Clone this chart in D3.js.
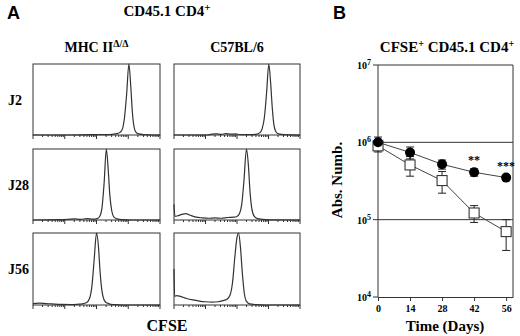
<!DOCTYPE html>
<html>
<head>
<meta charset="utf-8">
<script src="https://cdn.jsdelivr.net/npm/d3@7"></script>
<style>
  body { margin: 0; background: #fff; }
  svg { display: block; }
  text { font-family: "Liberation Serif", "Times New Roman", serif; font-weight: bold; fill: #000; }
  .panelLetter { font-family: "Liberation Sans", Arial, sans-serif; font-size: 18px; }
</style>
</head>
<body>
<svg id="chart" width="520" height="336"></svg>
<script>
// ---- panel A : CFSE histograms, x in log decades (10^0 .. 10^4), y in % of max
const rowLabels = ["J2", "J28", "J56"];
const colLabels = ["MHC II", "C57BL/6"];

const histKO_J2 = [[0,0],[1.2,0],[1.8,0.4],[2.3,0.5],[2.5,1],[2.65,2],[2.75,4],[2.82,9],[2.88,24],[2.95,58],[3.02,100],[3.08,68],[3.13,32],[3.18,12],[3.24,4],[3.32,1.5],[3.5,0.5],[3.8,0],[4,0]];
const histB6_J2 = [[0,0],[1.05,0],[1.2,1.2],[1.35,1.6],[1.5,1],[1.65,1.8],[1.8,1.2],[1.95,1.5],[2.1,0.6],[2.4,0.5],[2.6,1],[2.72,3],[2.8,9],[2.87,25],[2.94,60],[3.01,100],[3.07,72],[3.12,38],[3.17,15],[3.23,5],[3.32,1.5],[3.5,0.4],[4,0]];
const histKO_J28 = [[0,0],[0.8,0.5],[1.1,1],[1.3,1.5],[1.5,1],[1.7,1.8],[1.9,1.2],[2.02,2],[2.1,5],[2.17,16],[2.24,52],[2.31,100],[2.37,70],[2.42,35],[2.48,13],[2.55,4],[2.65,1.5],[2.8,0.5],[3.1,0],[4,0]];
const histB6_J28 = [[0,22],[0.03,5],[0.12,6],[0.25,8],[0.38,9],[0.5,7],[0.7,4],[0.9,3],[1.1,2.5],[1.3,3],[1.5,2.5],[1.7,3.5],[1.9,4],[2.0,5],[2.08,9],[2.15,22],[2.22,55],[2.3,100],[2.36,78],[2.41,42],[2.47,16],[2.55,5],[2.65,2],[2.8,1],[3.0,0.3],[4,0]];
const histKO_J56 = [[0,2],[0.2,2.5],[0.4,2],[0.6,1.5],[0.9,0.8],[1.2,0.6],[1.4,1],[1.55,1.5],[1.68,3],[1.78,9],[1.86,28],[1.93,65],[2.0,100],[2.06,82],[2.11,48],[2.17,20],[2.24,7],[2.32,3],[2.45,1],[2.7,0.3],[3,0],[4,0]];
const histB6_J56 = [[0,50],[0.02,12],[0.08,13],[0.2,12],[0.4,9],[0.6,7],[0.8,5.5],[1.0,4.5],[1.2,4],[1.4,4.5],[1.55,6],[1.68,8],[1.78,14],[1.86,32],[1.93,66],[2.0,94],[2.05,100],[2.11,80],[2.17,44],[2.23,17],[2.3,5],[2.4,1.5],[2.6,0.5],[2.9,0],[4,0]];

const histGrid = [
  [histKO_J2, histB6_J2],
  [histKO_J28, histB6_J28],
  [histKO_J56, histB6_J56]
];

// ---- panel B : absolute numbers over time
const days = [0, 14, 28, 42, 56];
const b6Mean = [1.0e6, 7.4e5, 5.2e5, 4.1e5, 3.5e5];
const b6Err = [1.7e5, 1.3e5, 0.7e5, 0.45e5, 0.25e5];
const koMean = [9.0e5, 5.1e5, 3.2e5, 1.22e5, 7.0e4];
const koErr = [1.5e5, 1.45e5, 1.0e5, 0.3e5, 3.0e4];
const stars = ["", "", "", "**", "***"];
const yTickExp = [4, 5, 6, 7];

const svg = d3.select("#chart");
const lineColor = "#333";

function histogramPanel(selection, data, x0, x1, y0, y1) {
    const xScale = d3.scaleLinear().domain([0, 4]).range([x0, x1]);
    const yScale = d3.scaleLinear().domain([0, 100]).range([y1, y0]);

    selection.append("rect")
        .attr("x", x0).attr("y", y0)
        .attr("width", x1 - x0).attr("height", y1 - y0)
        .attr("fill", "none")
        .attr("stroke", lineColor)
        .attr("stroke-width", 1);

    // log ticks along the bottom
    const logTicks = d3.scaleLog().domain([1, 1e4]).ticks();
    selection.selectAll(null)
        .data(logTicks)
        .join("line")
        .attr("x1", d => xScale(Math.log10(d)))
        .attr("x2", d => xScale(Math.log10(d)))
        .attr("y1", y1)
        .attr("y2", d => Number.isInteger(Math.log10(d)) ? y1 + 4 : y1 + 2)
        .attr("stroke", lineColor)
        .attr("stroke-width", 1);

    const line = d3.line()
        .x(d => xScale(d[0]))
        .y(d => yScale(d[1]))
        .curve(d3.curveMonotoneX);

    selection.append("path")
        .datum(data)
        .attr("d", line)
        .attr("fill", "none")
        .attr("stroke", "#333")
        .attr("stroke-width", 1.2);
}

// column / row positions of the histogram boxes
const cols = [[33, 160], [174, 300]];
const rows = [[64, 135], [149, 220], [233, 305]];

const gA = svg.append("g");
histGrid.forEach((row, i) => {
    row.forEach((data, j) => {
        histogramPanel(gA, data, cols[j][0], cols[j][1], rows[i][0], rows[i][1]);
    });
    gA.append("text")
        .attr("x", 8)
        .attr("y", (rows[i][0] + rows[i][1]) / 2 + 5)
        .style("font-size", "14px")
        .text(rowLabels[i]);
});

svg.append("text").attr("class", "panelLetter").attr("x", 7).attr("y", 19).text("A");

const titleA = svg.append("text")
    .attr("x", 167).attr("y", 16)
    .attr("text-anchor", "middle")
    .style("font-size", "15px");
titleA.append("tspan").text("CD45.1 CD4");
titleA.append("tspan").attr("dy", -5).style("font-size", "11px").text("+");

const koLabel = svg.append("text")
    .attr("x", (cols[0][0] + cols[0][1]) / 2).attr("y", 52)
    .attr("text-anchor", "middle")
    .style("font-size", "14px");
koLabel.append("tspan").text(colLabels[0]);
koLabel.append("tspan").attr("dy", -5).style("font-size", "10px").text("Δ/Δ");

svg.append("text")
    .attr("x", (cols[1][0] + cols[1][1]) / 2).attr("y", 52)
    .attr("text-anchor", "middle")
    .style("font-size", "14px")
    .text(colLabels[1]);

svg.append("text")
    .attr("x", 167).attr("y", 331)
    .attr("text-anchor", "middle")
    .style("font-size", "16px")
    .text("CFSE");

// ---- panel B
const gB = svg.append("g");
const xB = d3.scaleLinear().domain([0, 59]).range([378, 513]);
const yB = d3.scaleLog().domain([1e4, 1e7]).range([297, 65]);

// box: top + right border, gridlines at decades
gB.selectAll(null)
    .data(yTickExp)
    .join("line")
    .attr("x1", xB(0) - 5)
    .attr("x2", d => (d === 4 ? xB(0) : xB(59)))
    .attr("y1", d => yB(10 ** d))
    .attr("y2", d => yB(10 ** d))
    .attr("stroke", lineColor)
    .attr("stroke-width", 1);

gB.append("line")
    .attr("x1", xB(59)).attr("x2", xB(59))
    .attr("y1", yB(1e7)).attr("y2", yB(1e4))
    .attr("stroke", lineColor).attr("stroke-width", 1);

gB.append("g")
    .attr("transform", `translate(0,${yB(1e4)})`)
    .call(d3.axisBottom(xB).tickValues(days).tickSize(4).tickPadding(4).tickSizeOuter(0))
    .call(g => g.select(".domain").attr("stroke", lineColor))
    .call(g => g.selectAll(".tick line").attr("stroke", lineColor))
    .call(g => g.selectAll(".tick text")
        .style("font-family", "'Liberation Serif', serif")
        .style("font-weight", "bold")
        .style("font-size", "10px")
        .attr("fill", "#000"));

gB.append("line")
    .attr("x1", xB(0)).attr("x2", xB(0))
    .attr("y1", yB(1e7)).attr("y2", yB(1e4))
    .attr("stroke", lineColor).attr("stroke-width", 1);

const yLabels = gB.selectAll(null)
    .data(yTickExp)
    .join("text")
    .attr("x", xB(0) - 7)
    .attr("y", d => yB(10 ** d) + 4)
    .attr("text-anchor", "end")
    .style("font-size", "10px");
yLabels.append("tspan").text("10");
yLabels.append("tspan").attr("dy", -4).style("font-size", "8px").text(d => d);

// series lines
const lineB = d3.line()
    .x((d, i) => xB(days[i]))
    .y(d => yB(d));

gB.append("path").datum(koMean).attr("d", lineB)
    .attr("fill", "none").attr("stroke", "#444").attr("stroke-width", 1);
gB.append("path").datum(b6Mean).attr("d", lineB)
    .attr("fill", "none").attr("stroke", "#444").attr("stroke-width", 1);

function errorBars(selection, means, errs) {
    const g = selection.append("g").attr("stroke", "#222").attr("stroke-width", 1);
    means.forEach((m, i) => {
        const x = xB(days[i]);
        const yTop = yB(m + errs[i]);
        const yBot = yB(m - errs[i]);
        g.append("line").attr("x1", x).attr("x2", x).attr("y1", yTop).attr("y2", yBot);
        g.append("line").attr("x1", x - 4).attr("x2", x + 4).attr("y1", yTop).attr("y2", yTop);
        g.append("line").attr("x1", x - 4).attr("x2", x + 4).attr("y1", yBot).attr("y2", yBot);
    });
}

errorBars(gB, koMean, koErr);
errorBars(gB, b6Mean, b6Err);

gB.selectAll(".koPoint")
    .data(koMean)
    .join("rect")
    .attr("class", "koPoint")
    .attr("x", (d, i) => xB(days[i]) - 5)
    .attr("y", d => yB(d) - 5)
    .attr("width", 10).attr("height", 10)
    .attr("fill", "#fff")
    .attr("stroke", "#222")
    .attr("stroke-width", 1);

gB.selectAll(".b6Point")
    .data(b6Mean)
    .join("circle")
    .attr("class", "b6Point")
    .attr("cx", (d, i) => xB(days[i]))
    .attr("cy", d => yB(d))
    .attr("r", 5)
    .attr("fill", "#000");

gB.selectAll(".stars")
    .data(b6Mean)
    .join("text")
    .attr("class", "stars")
    .attr("x", (d, i) => Math.round(xB(days[i])))
    .attr("y", d => Math.round(yB(d) - 8))
    .attr("text-anchor", "middle")
    .style("font-size", "12px")
    .style("fill", "#000")
    .text((d, i) => stars[i]);

svg.append("text").attr("class", "panelLetter").attr("x", 333).attr("y", 19).text("B");

const titleB = svg.append("text")
    .attr("x", 447).attr("y", 52)
    .attr("text-anchor", "middle")
    .style("font-size", "15px");
titleB.append("tspan").text("CFSE");
titleB.append("tspan").attr("dy", -5).style("font-size", "10px").text("+");
titleB.append("tspan").attr("dy", 5).text(" CD45.1 CD4");
titleB.append("tspan").attr("dy", -5).style("font-size", "10px").text("+");

svg.append("text")
    .attr("transform", "translate(342,180) rotate(-90)")
    .attr("text-anchor", "middle")
    .style("font-size", "15px")
    .text("Abs. Numb.");

svg.append("text")
    .attr("x", 445).attr("y", 331)
    .attr("text-anchor", "middle")
    .style("font-size", "15px")
    .text("Time (Days)");
</script>
</body>
</html>
